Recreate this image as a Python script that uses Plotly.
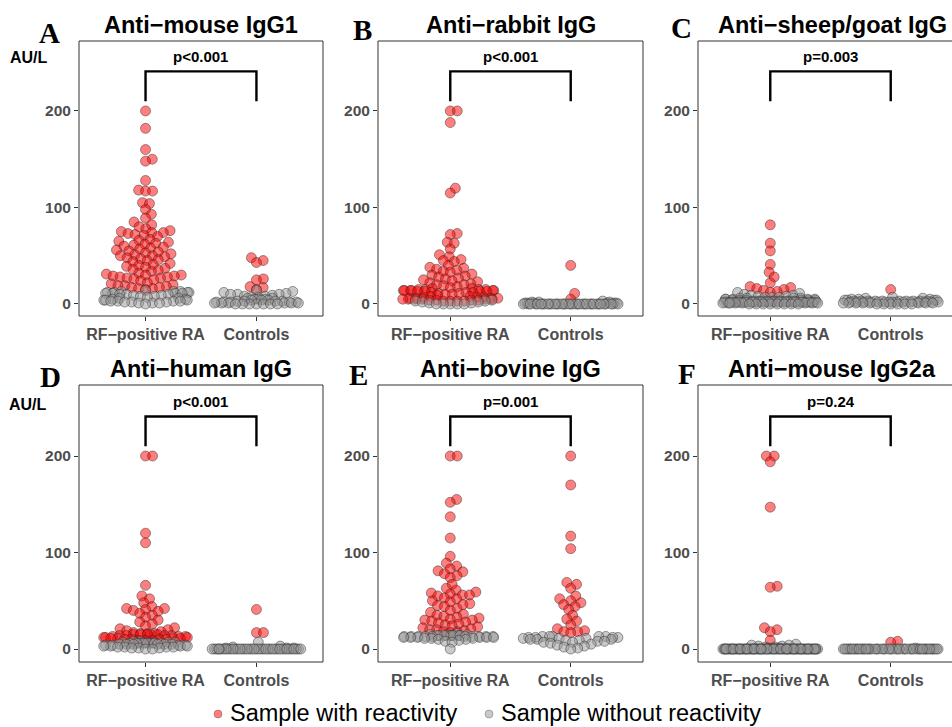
import math
import plotly.graph_objects as go

# ---------------- data ----------------
CATEGORIES = ["RF−positive RA", "Controls"]
TITLES = ["Anti−mouse IgG1", "Anti−rabbit IgG", "Anti−sheep/goat IgG",
          "Anti−human IgG", "Anti−bovine IgG", "Anti−mouse IgG2a"]
LETTERS = ["A", "B", "C", "D", "E", "F"]
P_LABELS = ["p<0.001", "p<0.001", "p=0.003", "p<0.001", "p=0.001", "p=0.24"]
Y_TICKS = [0, 100, 200]
BRACKET_LOW = 210
BRACKET_HIGH = 241
P_LABEL_Y = 256
LEGEND_NAMES = ["Sample with reactivity", "Sample without reactivity"]
UNIT_LABEL = "AU/L"

A_RA_POS = [200, 182, 160, 150, 148, 128, 118, 117, 117, 105, 104, 98, 93, 89, 85, 82, 80, 78,
            76, 75, 74, 74, 73, 72, 71, 70, 67, 66, 65, 64, 63, 62, 61, 60, 59, 58, 57, 56, 55,
            54, 53, 52, 51, 50, 50, 49, 48, 47, 46, 45, 44, 42, 41, 40, 39, 38, 37, 36, 35, 34,
            32, 31, 30, 30, 29, 29, 28, 28, 27, 27, 26, 25, 24, 22, 21, 20, 19, 19, 18, 17, 17,
            16, 16, 15]
A_RA_NEG = [14, 13, 13, 13, 12, 12, 12, 12, 11, 11, 11, 11, 10, 10, 10, 9, 9, 8, 8, 7, 6, 6,
            5, 5, 4, 4, 4, 3, 3, 3, 3, 2, 2, 2, 1, 1, 1, 0]
A_CT_POS = [48, 45, 43, 26, 25, 18, 17, 15]
A_CT_NEG = [14, 13, 12, 11, 10, 10, 10, 9, 8, 8, 7, 7, 6, 6, 5, 5, 5, 4, 4, 4, 3, 3, 3, 3,
            2, 2, 2, 2, 2, 1, 1, 1, 1, 1, 1, 0, 0, 0, 0, 0, 0, 0]

B_RA_POS = [200, 200, 188, 120, 115, 73, 72, 64, 63, 57, 51, 49, 46, 45, 44, 40, 38, 37, 36,
            35, 34, 33, 31, 30, 29, 28, 27, 26, 25, 24, 23, 22, 21, 20, 20, 19, 18, 17, 16, 16,
            15, 15, 15, 15, 14, 14, 14, 14, 14, 14, 13, 13, 13, 13, 12, 12, 12, 11, 11, 10, 10,
            9, 8, 8, 7, 7, 7, 6, 6, 6, 6, 5, 5, 5, 5, 5, 5, 4, 4, 4, 4, 3, 3, 3, 3]
B_RA_NEG = [4, 3, 3, 2, 2, 1, 1, 0, 0, 0, 0, 0]
B_CT_POS = [40, 11, 5]
B_CT_NEG = [3, 2, 2, 2, 1, 1, 1, 1, 1, 1,
            0, 0, 0, 0, 0, 0, 0, 0, 0, 0, 0, 0, 0, 0, 0, 0, 0, 0, 0, 0,
            0, 0, 0, 0, 0, 0, 0, 0, 0, 0, 0, 0, 0, 0, 0, 0, 0]

C_RA_POS = [82, 63, 55, 41, 33, 28, 22, 18, 17, 16, 15, 14, 13, 12]
C_RA_NEG = [12, 11, 10, 9, 9, 8, 8, 7, 7, 7, 6, 6, 6, 6, 5, 5, 5, 5, 5, 4, 4, 4, 4, 4, 4,
            3, 3, 3, 3, 3, 3, 3, 3, 3, 3, 3, 3,
            2, 2, 2, 2, 2, 2, 2, 2, 2, 2, 2, 2, 2, 2, 2, 2, 2, 2, 2, 2,
            2, 2, 2, 2, 2, 2, 2, 2, 2, 2, 2, 2, 2, 2,
            1, 1, 1, 1, 1, 1, 1, 1, 0, 0, 0, 0, 0, 0, 0, 0]
C_CT_POS = [15]
C_CT_NEG = [7, 6, 6, 5, 5, 5, 4, 4, 4, 4, 3, 3, 3, 3, 3, 3, 3, 3, 3, 3,
            2, 2, 2, 2, 2, 2, 2, 2, 2, 2, 2, 2, 2, 2, 2, 1, 1, 1, 1, 1, 1, 1, 1,
            0, 0, 0, 0, 0, 0]

D_RA_POS = [200, 200, 120, 110, 66, 55, 52, 48, 44, 42, 42, 41, 40, 39, 37, 35, 33, 30, 28,
            26, 24, 22, 21, 20, 19, 18, 17, 16, 16, 16, 15, 15, 15, 15, 15, 14, 14, 14, 14,
            13, 13, 13, 12, 12, 12, 11, 11, 11, 11, 10, 10, 10, 10, 9, 9, 9]
D_RA_NEG = [8, 8, 7, 7, 7, 7, 7, 6, 6, 6, 6, 6, 6, 6, 6, 5, 5, 5, 5, 5, 5, 4, 4, 4, 4,
            3, 3, 3, 3, 2, 2, 2, 2, 1, 1, 1, 0, 0]
D_CT_POS = [41, 17, 17]
D_CT_NEG = [7, 3, 2, 1, 1, 1,
            0, 0, 0, 0, 0, 0, 0, 0, 0, 0, 0, 0, 0, 0, 0, 0, 0, 0, 0, 0,
            0, 0, 0, 0, 0, 0, 0, 0, 0, 0, 0, 0, 0, 0, 0, 0, 0, 0, 0, 0]

E_RA_POS = [200, 200, 155, 152, 137, 115, 96, 89, 86, 83, 81, 80, 78, 76, 74, 67, 63, 61, 59,
            58, 57, 56, 56, 55, 53, 52, 50, 49, 47, 46, 45, 44, 42, 40, 38, 36, 35, 34, 33, 32,
            31, 30, 30, 29, 28, 27, 26, 25, 24, 23, 22, 21, 20, 20, 19, 18, 18, 17]
E_RA_NEG = [16, 15, 15, 14, 14, 14, 14, 14, 14, 14, 14, 14, 13, 13, 13, 13, 13, 13, 13, 13,
            13, 13, 12, 12, 12, 12, 12, 12, 11, 11, 11, 10, 10, 9, 8, 7, 0]
E_CT_POS = [200, 170, 117, 104, 69, 67, 63, 55, 52, 50, 48, 46, 44, 41, 35, 31, 29, 25, 21,
            19, 18, 18, 17]
E_CT_NEG = [13, 13, 13, 13, 13, 12, 12, 12, 12, 11, 11, 11, 10, 10, 10, 9, 9, 8, 8, 7, 7, 6,
            5, 4, 3, 2, 1, 0]

F_RA_POS = [200, 200, 194, 147, 65, 64, 22, 20, 18, 9]
F_RA_NEG = [5, 4, 4, 3, 3, 2, 2, 1, 1, 1,
            0, 0, 0, 0, 0, 0, 0, 0, 0, 0, 0, 0, 0, 0, 0, 0, 0, 0, 0, 0,
            0, 0, 0, 0, 0, 0, 0, 0, 0, 0, 0, 0, 0, 0, 0, 0, 0, 0, 0, 0,
            0, 0, 0, 0, 0, 0, 0, 0, 0, 0, 0, 0, 0, 0, 0, 0, 0, 0, 0, 0,
            0, 0, 0, 0, 0, 0, 0, 0, 0, 0, 0, 0, 0, 0, 0, 0, 0, 0, 0, 0]
F_CT_POS = [8, 7]
F_CT_NEG = [1,
            0, 0, 0, 0, 0, 0, 0, 0, 0, 0, 0, 0, 0, 0, 0, 0, 0, 0, 0, 0,
            0, 0, 0, 0, 0, 0, 0, 0, 0, 0, 0, 0, 0, 0, 0, 0, 0, 0, 0, 0,
            0, 0, 0, 0, 0, 0, 0, 0]

PANELS = [
    (A_RA_POS, A_RA_NEG, A_CT_POS, A_CT_NEG),
    (B_RA_POS, B_RA_NEG, B_CT_POS, B_CT_NEG),
    (C_RA_POS, C_RA_NEG, C_CT_POS, C_CT_NEG),
    (D_RA_POS, D_RA_NEG, D_CT_POS, D_CT_NEG),
    (E_RA_POS, E_RA_NEG, E_CT_POS, E_CT_NEG),
    (F_RA_POS, F_RA_NEG, F_CT_POS, F_CT_NEG),
]

# ---------------- geometry / style ----------------
W, H = 952, 727
COLS = [(79, 323, 110.9), (378, 643, 120.45), (698, 966, 120.45)]   # px left, right, px per x-unit
ROWS = [(41, 316, [-12.44, 272.5]), (385, 662, [-13.47, 273.6])]
SY = 0.965           # px per y-unit
SPACING = 7.0        # swarm spacing in px
CORRAL = 0.8         # corral width (x units)

SANS = "Liberation Sans, Arial, sans-serif"
SERIF = "Liberation Serif, Times New Roman, serif"
RED = "rgba(255,0,0,0.5)"
GREY = "rgba(150,150,150,0.5)"
EDGE = "rgba(40,40,40,0.5)"


def swarm(values, ux):
    ys = [v * SY for v in values]
    n = len(ys)
    order = sorted(range(n), key=lambda i: ys[i])
    px, py = [], []
    xs = [0.0] * n
    d = SPACING
    for i in order:
        y = ys[i]
        near = [(xj, yj) for xj, yj in zip(px, py) if abs(y - yj) < d]
        cands = [0.0]
        for xj, yj in near:
            dx = math.sqrt(d * d - (y - yj) ** 2)
            cands += [xj + dx, xj - dx]
        cands.sort(key=lambda c: (abs(c), -c))
        chosen = 0.0
        for c in cands:
            if all((c - xj) ** 2 + (y - yj) ** 2 >= d * d - 1e-6 for xj, yj in near):
                chosen = c
                break
        xs[i] = chosen
        px.append(chosen)
        py.append(y)
    half = CORRAL / 2 * ux
    out = []
    for x in xs:
        if abs(x) > half:
            x = ((x + half) % (2 * half)) - half
        out.append(x / ux)
    return out


fig = go.Figure()
shapes, annotations = [], []
layout_axes = {}

for k, (ra_pos, ra_neg, ct_pos, ct_neg) in enumerate(PANELS):
    r, c = divmod(k, 3)
    left, right, ux = COLS[c]
    top, bottom, yrange = ROWS[r]
    sfx = "" if k == 0 else str(k + 1)
    xa, ya = "x" + sfx, "y" + sfx

    for vals_pair, color, nm in (((ra_pos, ct_pos), RED, LEGEND_NAMES[0]),
                                 ((ra_neg, ct_neg), GREY, LEGEND_NAMES[1])):
        xs, ys = [], []
        for cat_idx, vals in enumerate(vals_pair):
            offs = swarm(vals, ux)
            xs += [cat_idx + 1 + o for o in offs]
            ys += list(vals)
        fig.add_trace(go.Scatter(
            x=xs, y=ys, mode="markers", xaxis=xa, yaxis=ya, showlegend=False,
            name=nm, hoverinfo="skip",
            marker=dict(size=10, color=color, line=dict(color=EDGE, width=0.9)),
        ))

    x_right_px = min(right, W)
    xrange = [0.4, 0.4 + (x_right_px - left) / ux]
    tickfont = dict(family=SANS, size=16, color="#4d4d4d", weight="bold")
    layout_axes["xaxis" + sfx] = dict(
        domain=[left / W, x_right_px / W], range=xrange, anchor=ya,
        tickvals=[1, 2], ticktext=CATEGORIES, ticks="outside", ticklen=4,
        tickcolor="#333333", tickwidth=1, showgrid=False, zeroline=False,
        showline=False, tickfont=tickfont, fixedrange=True, automargin=False,
    )
    layout_axes["yaxis" + sfx] = dict(
        domain=[1 - bottom / H, 1 - top / H], range=yrange, anchor=xa,
        tickvals=Y_TICKS, ticks="outside", ticklen=4, tickcolor="#333333",
        tickwidth=1, showgrid=False, zeroline=False, showline=False,
        tickfont=dict(family=SANS, size=15.5, color="#4d4d4d", weight="bold"),
        fixedrange=True, automargin=False,
    )
    # panel border
    shapes.append(dict(type="rect", xref=xa + " domain", yref=ya + " domain",
                       x0=0, x1=(right - left) / (x_right_px - left), y0=0, y1=1,
                       line=dict(color="#333333", width=1), layer="above"))
    # significance bracket
    shapes.append(dict(type="path", xref=xa, yref=ya,
                       path=f"M 1,{BRACKET_LOW} L 1,{BRACKET_HIGH} L 2,{BRACKET_HIGH} L 2,{BRACKET_LOW}",
                       line=dict(color="black", width=2.4)))
    annotations.append(dict(x=1.5, y=P_LABEL_Y, xref=xa, yref=ya, text=P_LABELS[k],
                            showarrow=False, font=dict(family=SANS, size=15, color="black",
                                                       weight="bold")))
    # title
    title_y = [24.5, 369][r]
    annotations.append(dict(x=(left + right) / 2 / W, y=1 - title_y / H, xref="paper",
                            yref="paper", text=TITLES[k], showarrow=False,
                            xanchor="center", yanchor="middle",
                            font=dict(family=SANS, size=23.5, color="black", weight="bold")))

LETTER_POS = [(49, 33), (362.5, 30), (681, 28), (50, 377), (358.5, 375), (687, 374)]
for k, (lx, ly) in enumerate(LETTER_POS):
    annotations.append(dict(x=lx / W, y=1 - ly / H, xref="paper", yref="paper",
                            text=LETTERS[k], showarrow=False, xanchor="center",
                            yanchor="middle",
                            font=dict(family=SERIF, size=29, color="black", weight="bold")))
for (ux_, uy_) in [(28.5, 57.5), (27.5, 404)]:
    annotations.append(dict(x=ux_ / W, y=1 - uy_ / H, xref="paper", yref="paper",
                            text=UNIT_LABEL, showarrow=False, xanchor="center",
                            yanchor="middle",
                            font=dict(family=SANS, size=16, color="black", weight="bold")))

# legend (drawn as marker glyph + text)
LEG_Y = 713
for name, color, (mx, tx) in zip(LEGEND_NAMES, [RED, GREY], [(218, 228), (489, 499)]):
    shapes.append(dict(type="circle", xref="paper", yref="paper",
                       xsizemode="pixel", ysizemode="pixel",
                       xanchor=mx / W, yanchor=1 - (LEG_Y + 1) / H,
                       x0=-4, x1=4, y0=-4, y1=4,
                       fillcolor=color, line=dict(color=EDGE, width=0.6)))
    annotations.append(dict(x=tx / W, y=1 - LEG_Y / H, xref="paper", yref="paper",
                            text=name, showarrow=False, xanchor="left", yanchor="middle",
                            font=dict(family=SANS, size=23.5, color="black")))

fig.update_layout(
    width=W, height=H, margin=dict(l=0, r=0, t=0, b=0),
    paper_bgcolor="white", plot_bgcolor="white",
    shapes=shapes, annotations=annotations, showlegend=False,
    **layout_axes,
)

fig.write_html("out.html", config={"displayModeBar": False},
               post_script="document.body.style.margin='0';document.body.style.overflow='hidden';")
